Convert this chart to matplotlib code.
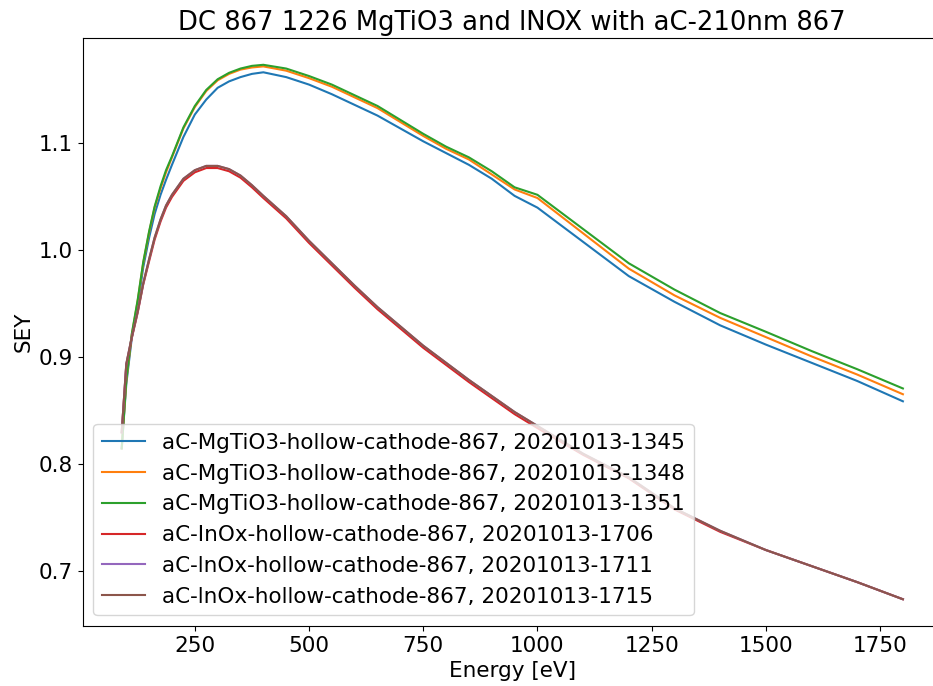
import matplotlib
matplotlib.use("Agg")
import matplotlib.pyplot as plt

energy = [90, 100, 112, 125, 137, 150, 162, 175, 187, 200, 225, 250, 275, 300,
          325, 350, 375, 400, 450, 500, 550, 600, 650, 700, 750, 800, 850, 900,
          950, 1000, 1100, 1200, 1300, 1400, 1500, 1600, 1700, 1800]

sey_1345 = [0.815, 0.875, 0.918, 0.948, 0.984, 1.012, 1.034, 1.052, 1.066, 1.080,
            1.106, 1.127, 1.141, 1.152, 1.158, 1.162, 1.165, 1.1665, 1.162, 1.155,
            1.146, 1.136, 1.126, 1.114, 1.102, 1.091, 1.080, 1.067, 1.051, 1.040,
            1.008, 0.976, 0.952, 0.930, 0.912, 0.895, 0.878, 0.859]
sey_1348 = [0.815, 0.878, 0.921, 0.953, 0.988, 1.017, 1.040, 1.058, 1.073, 1.087,
            1.114, 1.134, 1.149, 1.159, 1.165, 1.169, 1.171, 1.172, 1.168, 1.161,
            1.153, 1.143, 1.133, 1.120, 1.107, 1.095, 1.085, 1.071, 1.057, 1.049,
            1.016, 0.983, 0.958, 0.937, 0.919, 0.901, 0.884, 0.8656]
sey_1351 = [0.815, 0.879, 0.922, 0.954, 0.989, 1.018, 1.041, 1.060, 1.075, 1.088,
            1.115, 1.135, 1.150, 1.160, 1.166, 1.170, 1.1725, 1.1735, 1.170, 1.163,
            1.155, 1.145, 1.135, 1.122, 1.109, 1.097, 1.087, 1.074, 1.059, 1.052,
            1.020, 0.988, 0.9634, 0.9415, 0.924, 0.906, 0.889, 0.871]
sey_1706 = [0.830, 0.893, 0.918, 0.942, 0.968, 0.990, 1.010, 1.027, 1.040, 1.050,
            1.065, 1.073, 1.077, 1.077, 1.074, 1.068, 1.059, 1.049, 1.030, 1.007,
            0.986, 0.965, 0.945, 0.927, 0.909, 0.893, 0.877, 0.862, 0.847, 0.834,
            0.809, 0.787, 0.758, 0.737, 0.720, 0.705, 0.690, 0.674]
sey_1711 = [0.830, 0.894, 0.919, 0.943, 0.969, 0.992, 1.012, 1.029, 1.042, 1.052,
            1.067, 1.075, 1.079, 1.079, 1.076, 1.070, 1.061, 1.051, 1.032, 1.009,
            0.988, 0.967, 0.947, 0.929, 0.911, 0.895, 0.879, 0.864, 0.849, 0.836,
            0.810, 0.788, 0.759, 0.738, 0.720, 0.705, 0.690, 0.674]
sey_1715 = [0.830, 0.894, 0.919, 0.943, 0.969, 0.992, 1.012, 1.029, 1.042, 1.052,
            1.067, 1.075, 1.079, 1.079, 1.076, 1.070, 1.061, 1.051, 1.032, 1.009,
            0.988, 0.967, 0.947, 0.929, 0.911, 0.895, 0.879, 0.864, 0.849, 0.836,
            0.810, 0.788, 0.759, 0.738, 0.720, 0.705, 0.690, 0.674]

labels = [
    "aC-MgTiO3-hollow-cathode-867, 20201013-1345",
    "aC-MgTiO3-hollow-cathode-867, 20201013-1348",
    "aC-MgTiO3-hollow-cathode-867, 20201013-1351",
    "aC-InOx-hollow-cathode-867, 20201013-1706",
    "aC-lnOx-hollow-cathode-867, 20201013-1711",
    "aC-lnOx-hollow-cathode-867, 20201013-1715",
]
series = [sey_1345, sey_1348, sey_1351, sey_1706, sey_1711, sey_1715]

plt.rcParams["font.size"] = 15.5

fig = plt.figure(figsize=(9.33, 6.86), dpi=100)
# the right spine sits just past the image edge in the original
ax = fig.add_axes([0.0886, 0.0875, 0.921, 0.857])

for sey, label in zip(series, labels):
    ax.plot(energy, sey, label=label)

ax.set_title("DC 867 1226 MgTiO3 and lNOX with aC-210nm 867", fontsize=18.6)
ax.set_xlabel("Energy [eV]")
ax.set_ylabel("SEY")
ax.set_xlim(4.5, 1885.5)
ax.set_xticks([250, 500, 750, 1000, 1250, 1500, 1750])
ax.set_yticks([0.7, 0.8, 0.9, 1.0, 1.1])
ax.legend(loc="lower left")

fig.savefig("out.png", dpi=100)
